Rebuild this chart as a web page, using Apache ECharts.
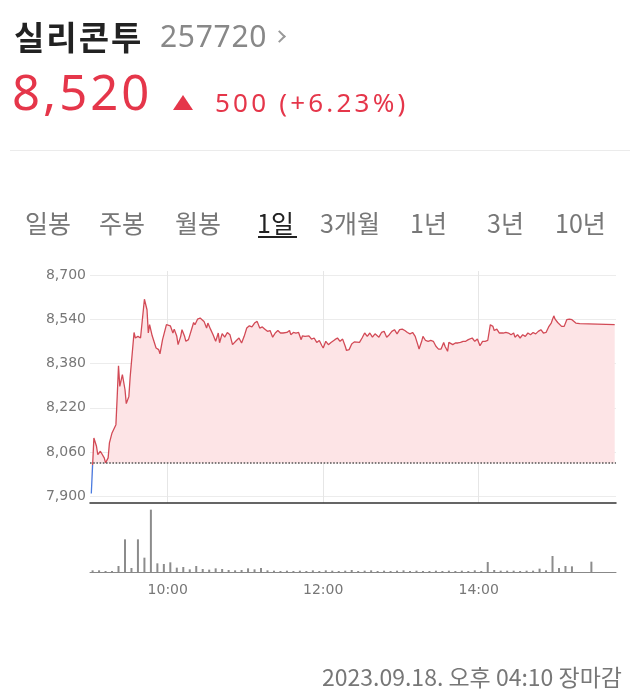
<!DOCTYPE html>
<html><head><meta charset="utf-8">
<script src="https://cdn.jsdelivr.net/npm/echarts@6/dist/echarts.min.js"></script>
<style>
html,body{margin:0;padding:0;background:#fff;width:631px;height:700px;overflow:hidden;font-family:"Noto Sans CJK KR","Noto Sans",sans-serif;}
#chart{position:absolute;left:0;top:0;width:631px;height:700px;}
.t{position:absolute;white-space:nowrap;line-height:1;}
.num{font-family:"Noto Sans","Noto Sans CJK KR",sans-serif;}
.tab{position:absolute;white-space:nowrap;line-height:1;font-size:25px;color:#777;top:210px;}
</style></head><body>
<div id="chart"></div>
<div class="t" style="left:14px;top:20px;font-size:33px;font-weight:700;color:#222;letter-spacing:2px;">실리콘투</div>
<div class="t num" style="left:160px;top:21px;font-size:30px;color:#888;letter-spacing:0.7px;">257720</div>
<div style="position:absolute;left:275px;top:32px;width:7px;height:7px;border-top:2.5px solid #999;border-right:2.5px solid #999;transform:rotate(45deg);"></div>
<div class="t num" style="left:12px;top:67px;font-size:49px;color:#e5364a;letter-spacing:3px;">8,520</div>
<div style="position:absolute;left:173px;top:95px;width:0;height:0;border-left:10px solid transparent;border-right:10px solid transparent;border-bottom:15px solid #e5364a;"></div>
<div class="t num" style="left:215px;top:89px;font-size:26px;color:#e5364a;letter-spacing:3.2px;">500 (+6.23%)</div>
<div style="position:absolute;left:10px;top:150px;width:620px;height:1px;background:#ebebeb;"></div>
<div class="tab" style="left:25px;">일봉</div>
<div class="tab" style="left:99px;">주봉</div>
<div class="tab" style="left:175px;">월봉</div>
<div class="tab" style="left:257px;color:#222;">1일</div>
<div style="position:absolute;left:258px;top:236px;width:39px;height:2px;background:#222;"></div>
<div class="tab" style="left:320px;">3개월</div>
<div class="tab" style="left:410px;">1년</div>
<div class="tab" style="left:487px;">3년</div>
<div class="tab" style="left:555px;">10년</div>
<div class="t" style="right:9px;top:665px;font-size:23px;color:#777;">2023.09.18. 오후 04:10 장마감</div>
<script>
// minutes after 09:00
const priceTimes = [1,3,5,6,8,9,11,12,14,15,17,18,20,21,22,23,25,27,28,30,31,32,34,35,37,39,40,42,44,45,46,48,49,51,53,54,56,57,59,60,62,64,65,67,68,70,71,73,74,76,77,80,81,83,85,86,88,90,91,93,95,97,99,100,102,104,106,108,110,113,115,117,119,121,123,125,127,129,131,133,135,137,139,141,143,145,147,149,152,154,155,157,159,161,163,164,166,169,171,173,175,177,179,180,182,184,186,189,191,193,195,197,198,200,202,204,208,210,212,214,216,218,220,223,225,227,229,231,233,235,237,239,241,243,245,247,249,251,253,254,256,257,259,261,263,265,267,269,271,273,274,276,277,280,282,284,286,288,290,292,293,295,297,299,301,303,305,307,309,311,312,314,316,317,319,321,323,325,327,328,330,332,334,336,338,340,342,344,346,348,350,352,354,356,358,359,361,362,364,366,368,370,372,373,375,376,378,379,405];
const prices = [7910,8111,8081,8051,8063,8060,8039,8021,8039,8093,8129,8126,8159,8261,8372,8297,8340,8286,8235,8261,8331,8333,8492,8472,8478,8472,8472,8612,8574,8490,8520,8480,8478,8436,8430,8415,8466,8460,8520,8526,8516,8490,8504,8478,8448,8478,8502,8478,8460,8466,8472,8528,8520,8540,8544,8550,8532,8508,8526,8504,8484,8460,8490,8455,8488,8475,8492,8484,8448,8463,8472,8454,8478,8508,8516,8512,8526,8532,8508,8512,8504,8496,8499,8475,8490,8499,8490,8490,8492,8499,8484,8492,8490,8492,8466,8480,8478,8480,8468,8472,8456,8463,8444,8436,8460,8448,8456,8466,8472,8460,8468,8442,8427,8430,8450,8458,8456,8472,8490,8478,8490,8475,8487,8475,8492,8496,8475,8484,8496,8502,8487,8502,8504,8499,8492,8487,8492,8478,8448,8432,8460,8478,8463,8460,8463,8460,8442,8432,8432,8456,8442,8424,8456,8448,8454,8454,8456,8460,8460,8466,8460,8472,8460,8468,8444,8460,8460,8463,8520,8514,8499,8504,8490,8496,8490,8492,8490,8484,8490,8475,8484,8472,8484,8478,8490,8484,8492,8487,8496,8502,8490,8492,8512,8526,8552,8540,8528,8532,8514,8514,8538,8540,8538,8543,8526,8532,8524,8520,8520];
const volTimes = [2,7,12,17,22,27,32,37,42,47,52,57,62,67,72,77,82,87,92,97,102,107,112,117,122,127,132,137,142,147,152,157,162,167,172,177,182,187,192,197,202,207,212,217,222,227,232,237,242,247,252,257,262,267,272,277,282,287,292,297,302,307,312,317,322,327,332,337,342,347,352,357,362,367,372,377,382,387];
const volumes = [5,5,3,3,18,98,12,98,43,187,26,24,29,13,15,8,18,9,7,11,9,6,5,6,11,8,12,5,4,3,4,3,4,3,5,3,5,4,3,4,6,3,4,5,3,4,3,4,5,3,4,3,3,4,3,4,3,4,3,5,3,30,6,4,4,4,3,4,4,10,5,48,12,18,17,0,0,31];
const priceTicks = [7900,8060,8220,8380,8540,8700];
const timeTicks = [60,180,300];
const prevClose = 8020;

const RED = '#d24a56', BLUE = '#4a7be0';
const pMax = Math.max(...prices), pMin = Math.min(...prices);
const split = (pMax - prevClose) / (pMax - pMin);
const lineGrad = new echarts.graphic.LinearGradient(0, 0, 0, 1, [
  {offset:0,color:RED},{offset:split,color:RED},{offset:split,color:BLUE},{offset:1,color:BLUE}
]);

const fmtTime = m => { const h = 9 + Math.floor(m/60), mm = m % 60; return h + ':' + (mm<10?'0':'') + mm; };
const chart = echarts.init(document.getElementById('chart'));
chart.setOption({
  animation:false,
  grid:[
    {left:90,right:15,top:271,height:232},
    {left:90,right:15,top:503,height:69}
  ],
  xAxis:[
    {type:'value',gridIndex:0,min:0,max:406,
     axisLine:{show:true,onZero:false,lineStyle:{color:'#333',width:1.5}},
     axisTick:{show:false,customValues:timeTicks},
     axisLabel:{show:false,customValues:timeTicks},
     splitLine:{show:true,lineStyle:{color:'#e6e6e6',width:1}}},
    {type:'value',gridIndex:1,min:0,max:406,
     axisLine:{show:true,onZero:false,lineStyle:{color:'#888',width:1}},
     axisTick:{show:false,customValues:timeTicks},
     axisLabel:{customValues:timeTicks,formatter:v=>fmtTime(v),color:'#777',fontSize:14,fontFamily:'DejaVu Sans',margin:11},
     splitLine:{show:false}}
  ],
  yAxis:[
    {type:'value',gridIndex:0,min:7876,max:8714,
     axisLine:{show:false},
     axisTick:{show:false,customValues:priceTicks},
     axisLabel:{customValues:priceTicks,formatter:v=>v.toLocaleString('en-US'),color:'#777',fontSize:14,fontFamily:'DejaVu Sans',margin:4},
     splitLine:{show:true,lineStyle:{color:'#ececec',width:1}}},
    {type:'value',gridIndex:1,min:0,max:207,show:false,splitLine:{show:false}}
  ],
  series:[
    {type:'line',xAxisIndex:0,yAxisIndex:0,
     data:priceTimes.map((t,i)=>[t,prices[i]]),
     symbol:'none',showSymbol:false,
     lineStyle:{width:1.3,color:lineGrad},
     itemStyle:{color:RED},
     areaStyle:{origin:prevClose,color:'#fde4e6',opacity:1},
     markLine:{silent:true,symbol:'none',label:{show:false},
       lineStyle:{type:'dotted',color:'#555',width:1.6},
       data:[{yAxis:prevClose}]}},
    {type:'bar',xAxisIndex:1,yAxisIndex:1,
     data:volTimes.map((t,i)=>[t,volumes[i]]),
     barWidth:2,itemStyle:{color:'#8c8c8c'}}
  ]
});
</script>
</body></html>
